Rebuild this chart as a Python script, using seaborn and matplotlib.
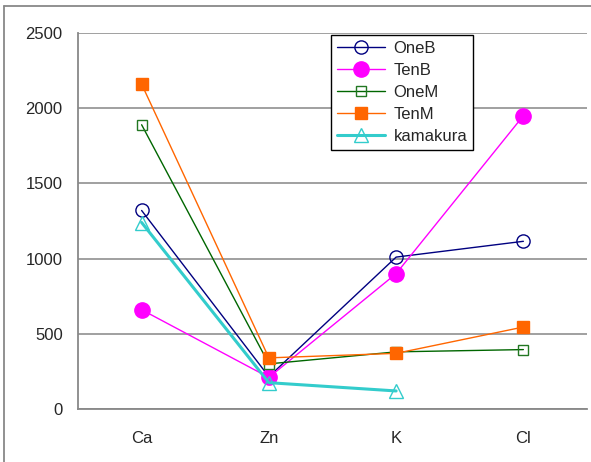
import numpy as np
import pandas as pd
import matplotlib
matplotlib.use("Agg")
import matplotlib.pyplot as plt
from matplotlib.lines import Line2D
import seaborn as sns

# Element concentrations per sample
elements = ["Ca", "Zn", "K", "Cl"]
one_b = [1320, 215, 1010, 1115]
ten_b = [660, 210, 900, 1950]
one_m = [1890, 300, 380, 395]
ten_m = [2160, 340, 370, 545]
kamakura = [1240, 175, 120, np.nan]

y_ticks = [0, 500, 1000, 1500, 2000, 2500]

series = [
    ("OneB", one_b, dict(color="#000080", marker="o", markersize=9.5,
                         markerfacecolor="none", markeredgecolor="#000080",
                         markeredgewidth=1.0, linewidth=1.0)),
    ("TenB", ten_b, dict(color="#FF00FF", marker="o", markersize=11,
                         markerfacecolor="#FF00FF", markeredgecolor="#FF00FF",
                         markeredgewidth=1.0, linewidth=1.0)),
    ("OneM", one_m, dict(color="#006600", marker="s", markersize=7.5,
                         markerfacecolor="none", markeredgecolor="#227722",
                         markeredgewidth=1.0, linewidth=1.0)),
    ("TenM", ten_m, dict(color="#FF6600", marker="s", markersize=8,
                         markerfacecolor="#FF6600", markeredgecolor="#FF6600",
                         markeredgewidth=1.0, linewidth=1.0)),
    ("kamakura", kamakura, dict(color="#33CCCC", marker="^", markersize=10,
                                markerfacecolor="none", markeredgecolor="#33CCCC",
                                markeredgewidth=1.0, linewidth=2.2)),
]

sns.set_style("white")
plt.rcParams["font.family"] = ["Liberation Sans", "DejaVu Sans"]

fig = plt.figure(figsize=(5.91, 4.62), dpi=100)
ax = fig.add_axes([78 / 591, 1 - 409 / 462, 509 / 591, 376 / 462])

xpos = np.arange(len(elements))
for name, vals, kw in series:
    df = pd.DataFrame({"x": xpos, "y": vals}).dropna()
    sns.lineplot(data=df, x="x", y="y", ax=ax, label=name, sort=False, **kw)

ax.set_xlim(-0.5, len(elements) - 0.5)
ax.set_ylim(0, 2500)
ax.set_yticks(y_ticks)
ax.set_yticklabels([str(t) for t in y_ticks], fontsize=12)
ax.yaxis.grid(True, color="#999999", linewidth=1.3)
ax.set_axisbelow(True)

# category labels centred, tick marks on category boundaries
ax.set_xticks(np.arange(len(elements) + 1) - 0.5)
ax.set_xticklabels([])
ax.set_xticks(xpos, minor=True)
ax.set_xticklabels(elements, minor=True, fontsize=12)
ax.tick_params(axis="x", which="major", direction="in", length=4,
               color="#888888", width=1.2)
ax.tick_params(axis="x", which="minor", length=0, pad=16)
ax.tick_params(axis="y", length=4, color="#888888", width=1.2, pad=11,
               direction="in")
ax.set_xlabel("")
ax.set_ylabel("")

for side in ["top", "right"]:
    ax.spines[side].set_visible(False)
for side in ["left", "bottom"]:
    ax.spines[side].set_color("#888888")
    ax.spines[side].set_linewidth(1.3)

leg = ax.legend(loc="upper left", bbox_to_anchor=((331 - 78) / 509, 1 - 2 / 376),
                fontsize=12, frameon=True, fancybox=False, framealpha=1,
                edgecolor="black", handlelength=2.9, handletextpad=0.5,
                labelspacing=0.42, borderpad=0.35, borderaxespad=0)
leg.get_frame().set_linewidth(1.0)

# outer chart frame
fig.add_artist(Line2D([4 / 591, 4 / 591], [-0.1, 1 - 6 / 462],
                      transform=fig.transFigure, color="#888888", linewidth=1.3))
fig.add_artist(Line2D([4 / 591, 1.1], [1 - 6 / 462, 1 - 6 / 462],
                      transform=fig.transFigure, color="#888888", linewidth=1.3))

fig.savefig("out.png", dpi=100)
